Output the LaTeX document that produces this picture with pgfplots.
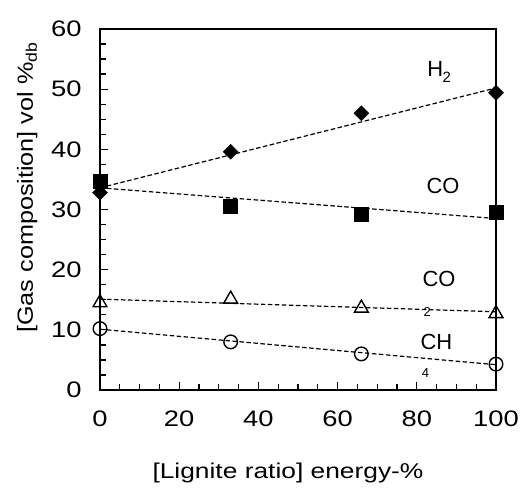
\documentclass[border=0pt]{standalone}
\usepackage{pgfplots}
\pgfplotsset{compat=1.18}
\usepackage{fontspec}
\setmainfont{Liberation Sans}
\begin{document}
\begin{tikzpicture}
\begin{axis}[
  width=396bp, height=361bp, scale only axis,
  xmin=0, xmax=100, ymin=0, ymax=60,
  xtick={0,20,...,100}, ytick={0,10,...,60},
  minor x tick num=3, minor y tick num=3,
  tick align=inside,
  xtick pos=bottom, ytick pos=left,
  major tick length=8bp, minor tick length=6bp,
  tick style={line width=1.3bp, black},
  axis line style={line width=1.2bp},
  /pgf/number format/assume math mode=true,
  ticklabel style={font=\fontsize{22.5}{26}\selectfont},
  xticklabel={\scalebox{1.22}[1]{\pgfmathprintnumber{\tick}}},
  yticklabel={\scalebox{1.22}[1]{\pgfmathprintnumber{\tick}}},
  xticklabel style={yshift=-17bp},
  yticklabel style={xshift=-15bp},
  xlabel={\scalebox{1.23}[1]{[Lignite ratio] energy-\%}},
  ylabel={\scalebox{1.15}[1]{[Gas composition] vol \%\textsubscript{db}}},
  xlabel style={font=\fontsize{21.5}{25}\selectfont, at={(rel axis cs:0.4747,-0.2446)}, anchor=base},
  ylabel style={font=\fontsize{22}{26}\selectfont, at={(rel axis cs:-0.1692,0.561)}, anchor=base},
  clip=false,
]
\coordinate (SW) at (rel axis cs:0,0);
\coordinate (NE) at (rel axis cs:1,1);
\draw[line width=2bp] (rel axis cs:0,1) -- (rel axis cs:0,0) -- (rel axis cs:1,0);
% trend lines
\addplot[black, line width=1.2bp, dash pattern=on 4.5bp off 2.5bp] coordinates {(0,33.6) (100,50.2)};
\addplot[black, line width=1.2bp, dash pattern=on 4.5bp off 2.5bp] coordinates {(0,33.6) (100,28.5)};
\addplot[black, line width=1.2bp, dash pattern=on 4.5bp off 2.5bp] coordinates {(0,15.1) (100,13.0)};
\addplot[black, line width=1.2bp, dash pattern=on 4.5bp off 2.5bp] coordinates {(0,10.1) (100,4.2)};
% data
\addplot[only marks, mark=square*, mark size=5.3bp, mark options={rotate=45, fill=black, draw=black}] coordinates {(0,32.8) (33,39.6) (66,46.0) (100,49.4)};
\addplot[only marks, mark=square*, mark size=7bp, mark options={fill=black, draw=black}] coordinates {(0,34.7) (33,30.6) (66,29.2) (100,29.5)};
\addplot[only marks, mark=triangle, mark size=8bp, mark options={draw=black, line width=1.4bp, fill=none}] coordinates {(0,14.5) (33,15.1) (66,13.6) (100,12.7)};
\addplot[only marks, mark=o, mark size=6.8bp, mark options={draw=black, line width=1.4bp}] coordinates {(0,10.2) (33,8.0) (66,6.0) (100,4.3)};
% labels
\node[anchor=base west, inner sep=0pt, font=\fontsize{22}{26}\selectfont] at (axis cs:82.6,52.07) {H};
\node[anchor=base west, inner sep=0pt, font=\fontsize{15}{18}\selectfont] at (axis cs:86.5,51.14) {2};
\node[anchor=base west, inner sep=0pt, font=\fontsize{22}{26}\selectfont] at (axis cs:82.4,32.74) {CO};
\node[anchor=base west, inner sep=0pt, font=\fontsize{22}{26}\selectfont] at (axis cs:81.4,17.17) {CO};
\node[anchor=base west, inner sep=0pt, font=\fontsize{13}{15}\selectfont] at (axis cs:81.7,12.18) {2};
\node[anchor=base west, inner sep=0pt, font=\fontsize{22}{26}\selectfont] at (axis cs:80.9,6.76) {CH};
\node[anchor=base west, inner sep=0pt, font=\fontsize{13}{15}\selectfont] at (axis cs:81.2,2.11) {4};
\end{axis}
\pgfresetboundingbox
\path ([shift={(-100bp,-98bp)}]SW) rectangle ([shift={(25bp,29bp)}]NE);
\end{tikzpicture}
\end{document}
